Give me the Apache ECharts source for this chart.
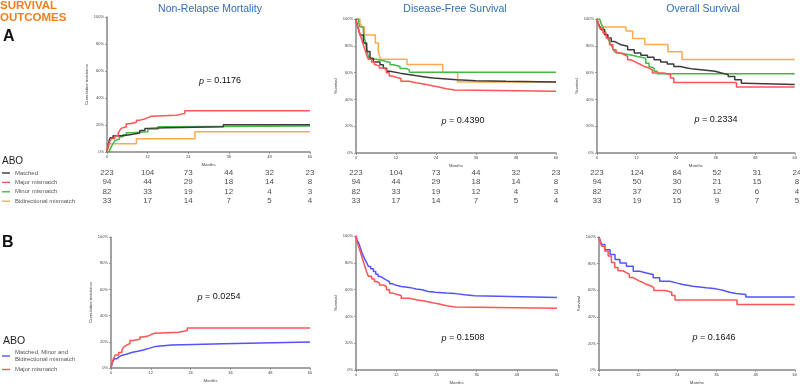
<!DOCTYPE html>
<html><head><meta charset="utf-8">
<script src="https://cdn.jsdelivr.net/npm/echarts@6/dist/echarts.min.js"></script>
<style>html,body{margin:0;padding:0;background:#fff}#c{width:800px;height:387px}</style>
</head><body><div id="c"></div>
<script>
// ---------- DATA (months, percent) ----------
const riskMonths = [0, 12, 24, 36, 48, 60];

// Non-relapse mortality (cumulative incidence, %)
const nrmMatched = [[0,0],[0.2,3],[0.4,6],[0.7,9],[1,10.5],[1.8,12],[4.7,13],[7.2,14],[9.7,16],[11.2,17.5],[12.1,18],[17.6,18.7],[34.4,20.2],[60,20.2]];
const nrmMajor = [[0,0],[0.3,4],[0.8,7.6],[1.3,10],[2.3,11.8],[3.3,13.8],[3.8,16],[4.2,17.5],[4.7,18.7],[5.7,21],[6.7,22],[8.7,23.6],[9.7,24.5],[11.2,25.5],[12.1,26.5],[13.1,27.3],[20.5,28.6],[23,30.5],[60,30.5]];
const nrmMinor = [[0,0],[0.8,1.5],[1.3,4],[1.8,6.4],[2.3,8.4],[2.8,9.6],[3.7,11.3],[4.7,12.8],[5.7,14.3],[7.2,15],[12.1,17],[15.1,18.7],[17.6,19.2],[60,19.2]];
const nrmBidir = [[0,0],[0.3,3],[0.8,6.1],[8.7,9.8],[26,15],[60,15]];
const nrmNonMajor = [[0,0],[0.2,2],[0.4,4],[0.7,5.5],[1,7],[1.7,8.5],[2.4,9.5],[3.1,10.5],[4.6,12],[6.5,13],[8.5,14],[10,15],[11.4,16.5],[13.4,17.5],[18.2,18],[25,18.5],[33.9,19.8],[60,19.8]];

// Disease-free survival (%)
const dfsMatched = [[0,100],[0.2,97],[0.7,93],[1.2,88],[2.2,82],[3.2,75.7],[4.2,70.7],[5.2,68],[7.2,65.8],[8.2,63.3],[9.2,61],[10.2,59.6],[13.2,58.8],[15.2,57.6],[18.2,56.6],[21.2,55.9],[23.2,55],[28.2,54.6],[30.2,54],[36,53.5],[45,53],[60,53]];
const dfsMajor = [[0,100],[0.3,96],[0.8,92],[1.3,88],[1.8,84],[2.3,80],[2.7,77],[3.2,73],[3.7,70],[4.7,68],[5.5,66],[6.1,65],[7,63.5],[8.1,62.3],[9.1,59.8],[10,57.4],[11,56.5],[12,55.6],[13.5,53.6],[15.9,52.4],[18,51.5],[20.3,51],[21.5,50],[23.2,49.4],[24.5,48],[27.1,47],[29.6,46],[60,46]];
const dfsMinor = [[0,100],[0.8,97],[1.2,94],[2.2,90],[2.7,84],[3.2,78],[3.7,72],[4.2,70],[6,68.8],[8.2,67.5],[10.2,65.8],[11.2,64.5],[13.2,63],[15.2,62],[16,60.3],[60,60.3]];
const dfsBidir = [[0,100],[1.2,97],[1.8,94],[2.5,88],[5.8,82],[6.7,76],[7.3,70],[15.3,66],[26,60],[30.5,53],[60,53]];
const dfsNonMajor = [[0,100],[0.3,97],[0.8,94.8],[1.3,91],[1.8,87.3],[2.2,85],[2.7,82.3],[3.2,80],[3.7,77.3],[4.4,75.5],[5.2,73.6],[5.9,71.5],[6.6,69.8],[7.3,68.5],[8.1,67.3],[9,66],[10,64.3],[11,63.2],[12,62.3],[13.5,61.5],[15.9,61.1],[16.9,60.5],[17.9,59.9],[19.8,58.6],[21.5,58],[23.7,57.4],[27,57],[29.6,56.1],[32.5,55.4],[35.4,54.1],[60,54.1]];

// Overall survival (%)
const osMatched = [[0,100],[0.3,97],[0.8,94.5],[1.3,92],[2.3,88.3],[3.3,85.8],[4.3,83.3],[5.3,82],[6.3,80.8],[7.3,79.6],[9.3,77],[11.3,74.6],[13.3,72.9],[15.3,71.4],[17.3,69.6],[19.3,67.9],[21.3,66.4],[23.3,64.6],[25.3,63.4],[27.3,62.6],[29.3,62],[32.3,61],[35.8,59.7],[37.8,58.5],[39.8,57],[41.8,54.7],[43.8,52],[44.8,51.2],[60,51.2]];
const osMajor = [[0,100],[0.3,97],[0.8,93],[1.8,89.5],[2.8,85.8],[3.8,80.8],[4.8,77],[5.8,74.6],[7.3,73.4],[8.3,72],[9.3,69.6],[10.3,68.4],[11.3,67],[12.3,66],[13.3,64.6],[14.3,63.4],[15.8,62],[16.8,59.7],[20.3,58.4],[22.3,56],[23.3,52.6],[42.3,49.3],[60,49.3]];
const osMinor = [[0,100],[0.8,98.8],[1.3,96.3],[1.8,93.9],[2.3,91.5],[2.8,88],[3.3,85.4],[3.8,83],[4.3,80.5],[4.8,78],[5.3,75.6],[5.8,74.4],[7.3,73.2],[10.3,72],[12.3,70.7],[14.8,67],[15.8,64.6],[16.3,63.4],[17.3,61],[18.3,59.2],[60,59.2]];
const osBidir = [[0,100],[0.3,97],[0.9,94],[8.8,91],[10.8,85.5],[14.5,81],[21.5,75.5],[25.8,69.7],[60,69.7]];
const osNonMajor = [[0,100],[0.3,98],[0.8,94.3],[1.8,90.5],[3.4,86.8],[4.9,83],[6.4,80.5],[8.4,78],[10.5,74.3],[12.5,73],[14.5,71.8],[16.6,69.3],[18.6,66.8],[21.7,65.5],[23.7,64.3],[25.7,63],[28.8,61.8],[32.9,61],[35.9,60],[37.9,58.5],[40,57.5],[42,56.8],[45,54.8],[60,54.8]];

// Numbers at risk
const nrmRiskMatched = [223,104,73,44,32,23];
const nrmRiskMajor   = [94,44,29,18,14,8];
const nrmRiskMinor   = [82,33,19,12,4,3];
const nrmRiskBidir   = [33,17,14,7,5,4];
const dfsRiskMatched = [223,104,73,44,32,23];
const dfsRiskMajor   = [94,44,29,18,14,8];
const dfsRiskMinor   = [82,33,19,12,4,3];
const dfsRiskBidir   = [33,17,14,7,5,4];
const osRiskMatched  = [223,124,84,52,31,24];
const osRiskMajor    = [94,50,30,21,15,8];
const osRiskMinor    = [82,37,20,12,6,4];
const osRiskBidir    = [33,19,15,9,7,5];

const groupNamesA = ['Matched','Major mismatch','Minor mismatch','Bidirectional mismatch'];
const groupNamesB = ['Matched, Minor and\nBidirectional mismatch','Major mismatch'];
const panelTitles = ['Non-Relapse Mortality','Disease-Free Survival','Overall Survival'];
const pValues = ['0.1176','0.4390','0.2334','0.0254','0.1508','0.1646'];

// ---------- LAYOUT / STYLE ----------
const FONT = '"Liberation Sans", Arial, Helvetica, sans-serif';
const COL = {black:'#3c3c3c', red:'#ff5454', green:'#47b847', orange:'#ffa94f', blue:'#5353ff'};
const plotGrids = [
  {left:107, top:17,  width:203, height:135, yName:'Cumulative incidence'},
  {left:356, top:19,  width:200, height:134, yName:'Survival'},
  {left:597, top:19,  width:200, height:134, yName:'Survival'},
  {left:111, top:237, width:199, height:131, yName:'Cumulative incidence'},
  {left:356, top:236, width:201, height:134, yName:'Survival'},
  {left:599, top:237, width:198, height:133, yName:'Survival'}
];
const tableGrids = [
  {left:107, top:168.3, width:203, height:37.3},
  {left:356, top:168.3, width:200, height:37.3},
  {left:597, top:168.3, width:200, height:37.3}
];

const grid = [], xAxis = [], yAxis = [], series = [];
plotGrids.forEach((g, i) => {
  grid.push({left:g.left, top:g.top, width:g.width, height:g.height, containLabel:false});
  xAxis.push({type:'value', gridIndex:i, min:0, max:60, interval:12,
    name:'Months', nameLocation:'middle', nameGap:11,
    nameTextStyle:{fontSize:4.3, color:'#444', fontFamily:FONT},
    axisLine:{show:true, lineStyle:{color:'#858585', width:1.5}},
    axisTick:{show:true, length:2, lineStyle:{color:'#858585', width:0.8}},
    axisLabel:{fontSize:4, color:'#444', margin:3, fontFamily:FONT},
    splitLine:{show:false}});
  yAxis.push({type:'value', gridIndex:i, min:0, max:100, interval:20,
    name:g.yName, nameLocation:'middle', nameGap:18,
    nameTextStyle:{fontSize:4.3, color:'#444', fontFamily:FONT},
    axisLine:{show:true, lineStyle:{color:'#858585', width:1.5}},
    axisTick:{show:true, length:2, lineStyle:{color:'#858585', width:0.8}},
    axisLabel:{fontSize:4, color:'#444', margin:3, formatter:'{value}%', fontFamily:FONT},
    splitLine:{show:false}});
});
tableGrids.forEach((g, j) => {
  const i = plotGrids.length + j;
  grid.push({left:g.left, top:g.top, width:g.width, height:g.height});
  xAxis.push({type:'value', gridIndex:i, min:0, max:60, show:false});
  yAxis.push({type:'category', gridIndex:i, data:groupNamesA, inverse:true, show:false, boundaryGap:true});
});

function km(name, data, color, gi) {
  return {type:'line', name:name, data:data, xAxisIndex:gi, yAxisIndex:gi, step:'end',
    showSymbol:false, symbol:'none', lineStyle:{color:color, width:1.5}, itemStyle:{color:color},
    animation:false, silent:true, z:3};
}
// Panel A
const aSets = [
  [nrmMatched, nrmMajor, nrmMinor, nrmBidir],
  [dfsMatched, dfsMajor, dfsMinor, dfsBidir],
  [osMatched, osMajor, osMinor, osBidir]
];
const aColors = [COL.black, COL.red, COL.green, COL.orange];
aSets.forEach((set, gi) => {
  [3,2,0,1].forEach(k => series.push(km(groupNamesA[k], set[k], aColors[k], gi)));
});
// Panel B
const bSets = [[nrmNonMajor, nrmMajor],[dfsNonMajor, dfsMajor],[osNonMajor, osMajor]];
bSets.forEach((set, j) => {
  series.push(km(groupNamesB[0], set[0], COL.blue, 3 + j));
  series.push(km(groupNamesB[1], set[1], COL.red, 3 + j));
});
// Number-at-risk tables
const riskSets = [
  [nrmRiskMatched, nrmRiskMajor, nrmRiskMinor, nrmRiskBidir],
  [dfsRiskMatched, dfsRiskMajor, dfsRiskMinor, dfsRiskBidir],
  [osRiskMatched, osRiskMajor, osRiskMinor, osRiskBidir]
];
riskSets.forEach((rows, j) => {
  const gi = plotGrids.length + j;
  const data = [];
  rows.forEach((row, r) => row.forEach((v, c) => data.push([riskMonths[c], groupNamesA[r], v])));
  series.push({type:'scatter', name:'atrisk' + j, xAxisIndex:gi, yAxisIndex:gi, data:data,
    symbolSize:1, itemStyle:{color:'rgba(0,0,0,0)'}, animation:false, silent:true,
    label:{show:true, position:'inside', formatter:p => String(p.value[2]),
      fontSize:8, color:'#222', fontFamily:FONT}});
});

// ---------- TEXTS ----------
function txt(x, y, text, opt) {
  opt = opt || {};
  return {type:'text', x:x, y:y, silent:true, z:10, style:Object.assign({
    text:text, fill:'#222', fontSize:10, fontFamily:FONT,
    textAlign:'left', align:'left', textVerticalAlign:'middle', verticalAlign:'middle'}, opt)};
}
const graphics = [
  txt(0, 5.8, 'SURVIVAL', {fill:'#F07F1B', fontSize:11.5, fontWeight:'bold'}),
  txt(0, 18, 'OUTCOMES', {fill:'#F07F1B', fontSize:11.5, fontWeight:'bold'}),
  txt(3, 37, 'A', {fill:'#111', fontSize:16, fontWeight:'bold'}),
  txt(2, 243, 'B', {fill:'#111', fontSize:16, fontWeight:'bold'}),
  txt(2, 161.5, 'ABO', {fill:'#222', fontSize:10}),
  txt(3, 341.5, 'ABO', {fill:'#222', fontSize:10.5})
];
const titleX = [210, 455, 703];
panelTitles.forEach((t, i) => graphics.push(txt(titleX[i], 9, t,
  {fill:'#2E6FB7', fontSize:10.5, textAlign:'center', align:'center'})));
const pPos = [[220,81],[463,121],[716,119.5],[219,297],[463,338],[714,337.5]];
pValues.forEach((v, i) => graphics.push(txt(pPos[i][0], pPos[i][1], '{i|p} = ' + v,
  {fill:'#111', fontSize:9, textAlign:'center', align:'center',
   rich:{i:{fontStyle:'italic', fontSize:9, fill:'#111', fontFamily:FONT}}})));

const legendCommon = {orient:'vertical', icon:'rect', itemWidth:8, itemHeight:1.4, padding:0,
  selectedMode:false, textStyle:{fontSize:6, color:'#555', fontFamily:FONT}};

const chart = echarts.init(document.getElementById('c'), null, {renderer:'canvas'});
chart.setOption({
  animation:false,
  backgroundColor:'#ffffff',
  grid:grid, xAxis:xAxis, yAxis:yAxis, series:series,
  legend:[
    Object.assign({}, legendCommon, {data:groupNamesA, left:2, top:170, itemGap:3.4,
      textStyle:Object.assign({}, legendCommon.textStyle, {lineHeight:6})}),
    Object.assign({}, legendCommon, {data:groupNamesB, left:2, top:349, itemGap:3,
      textStyle:Object.assign({}, legendCommon.textStyle, {lineHeight:7})})
  ],
  graphic:graphics
});
</script></body></html>
